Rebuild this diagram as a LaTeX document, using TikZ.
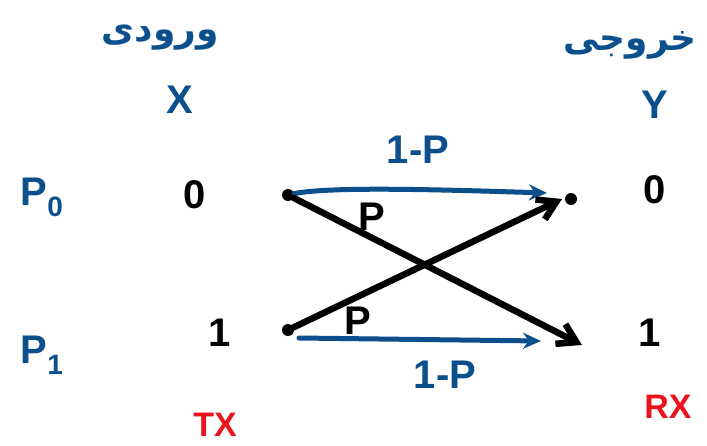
\documentclass[tikz,border=0pt]{standalone}
\usepackage{fontspec}
\setmainfont{Liberation Sans}
\newfontfamily\arabicfont[Script=Arabic]{DejaVu Sans}
\TeXXeTstate=1
\usetikzlibrary{arrows.meta}
\definecolor{inkblue}{HTML}{0B4F8C}
\definecolor{inkred}{HTML}{E8141E}
\tikzset{
  bluelbl/.style={text=inkblue, font=\fontsize{40}{40}\selectfont\bfseries, inner sep=0pt},
  blacklbl/.style={text=black, font=\fontsize{40}{40}\selectfont\bfseries, inner sep=0pt},
  redlbl/.style={text=inkred, font=\fontsize{34}{34}\selectfont\bfseries, inner sep=0pt},
  persian/.style={text=inkblue, font=\arabicfont\fontsize{36}{36}\selectfont\bfseries, inner sep=0pt},
  dotpt/.style={circle, fill=black, inner sep=0pt, minimum size=12pt},
  bluearrow/.style={inkblue, line width=5pt, line cap=round, -{Stealth[length=18pt, width=16pt]}},
  blackarrow/.style={black, line width=6.5pt, line cap=round, -{Straight Barb[length=18pt, width=22pt]}},
}
\begin{document}
\begin{tikzpicture}[x=1pt,y=-1pt]
\useasboundingbox (0,0) rectangle (707,445);
% headers
\node[persian] (in) at (160,38) {\beginR ورودی\endR};
\node[persian] (out) at (630,45) {\beginR خروجی\endR};
\node[bluelbl] (X) at (180,100) {X};
\node[bluelbl] (Y) at (655,105) {Y};
% probabilities
\node[bluelbl] (p0) at (42,197) {P\textsubscript{0}};
\node[bluelbl] (p1) at (42,355) {P\textsubscript{1}};
% symbols
\node[blacklbl] (x0) at (195,195) {0};
\node[blacklbl] (x1) at (220,333) {1};
\node[blacklbl] (y0) at (655,190) {0};
\node[blacklbl] (y1) at (650,333) {1};
% tx / rx
\node[redlbl] (tx) at (215,425) {TX};
\node[redlbl] (rx) at (668,407) {RX};
% dots
\node[dotpt] (a0) at (288,195) {};
\node[dotpt] (a1) at (288,330) {};
\node[dotpt] (b0) at (571,199) {};
\coordinate (b1) at (582,345);
\coordinate (t0) at (547,193);
\coordinate (t1) at (541,341);
\coordinate (c0) at (562,199);
% arrows
\draw[bluearrow] (a0) .. controls (330,186) and (450,190) .. (t0);
\draw[bluearrow] (299,338) -- (t1);
\draw[blackarrow] (a0) -- (b1);
\draw[blackarrow] (a1) -- (c0);
% edge labels
\node[bluelbl] (l1) at (418,150) {1-P};
\node[blacklbl] (pa) at (372,217) {P};
\node[blacklbl] (pb) at (358,321) {P};
\node[bluelbl] (l2) at (445,375) {1-P};
\end{tikzpicture}
\end{document}
